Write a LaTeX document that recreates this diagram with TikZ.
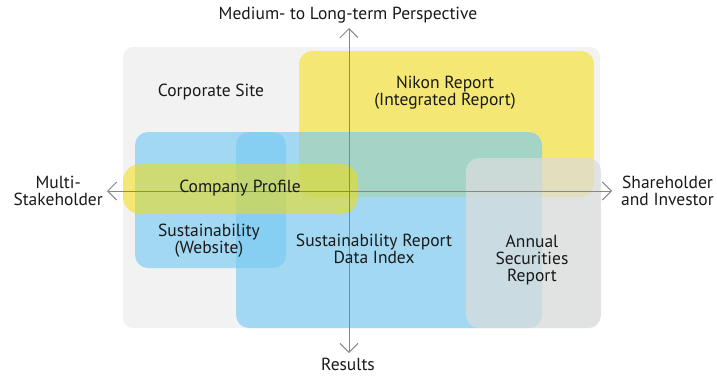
\documentclass[tikz,border=0pt]{standalone}
\usepackage{fontspec}
\setmainfont{PT Sans}
\usetikzlibrary{arrows.meta}
\definecolor{bggray}{RGB}{242,242,242}
\definecolor{yel}{RGB}{248,222,0}
\definecolor{blu}{RGB}{120,203,242}
\definecolor{gry}{RGB}{219,221,221}
\definecolor{axisgray}{RGB}{135,135,135}
\definecolor{txt}{RGB}{25,25,25}
\tikzset{
  region/.style={rectangle, draw=none, inner sep=0pt, outer sep=0pt},
  bgbox/.style={region, fill=bggray, rounded corners=10pt},
  yelbox/.style={region, fill=yel, fill opacity=0.52, rounded corners=13pt},
  blubox/.style={region, fill=blu, fill opacity=0.65, rounded corners=13pt},
  grybox/.style={region, fill=gry, fill opacity=0.72, rounded corners=13pt},
  lbl/.style={inner sep=0pt, align=center, text=txt, font=\fontsize{17.5}{17}\selectfont},
  axis/.style={draw=axisgray, line width=0.9pt, {Straight Barb[length=9pt,width=18pt,line width=0.9pt]}-{Straight Barb[length=9pt,width=18pt,line width=0.9pt]}}
}
\begin{document}
\begin{tikzpicture}[x=1pt,y=-1pt]
\useasboundingbox (0,0) rectangle (717,375);
% regions
\node[bgbox, minimum width=477pt, minimum height=281pt] (corp) at (361.5,187.5) {};
\node[yelbox, minimum width=295pt, minimum height=146pt] (nikon) at (446.5,124) {};
\node[blubox, minimum width=151pt, minimum height=136pt] (susweb) at (210.5,200) {};
\node[blubox, minimum width=306pt, minimum height=196pt] (susrep) at (389,230) {};
\node[yelbox, minimum width=235pt, minimum height=50pt, rounded corners=17pt] (profile) at (240.5,189) {};
\node[grybox, minimum width=135pt, minimum height=170pt] (annual) at (533.5,243) {};
% axes
\coordinate (L) at (107,191);
\coordinate (R) at (612,191);
\coordinate (T) at (349,28);
\coordinate (B) at (349,353);
\draw[axis] (L) -- (R);
\draw[axis] (B) -- (T);
% labels
\node[lbl] (tcorp) at (211,92) {Corporate Site};
\node[lbl] (tnikon) at (445,92.5) {Nikon Report\\(Integrated Report)};
\node[lbl] (tprof) at (240,188) {Company Profile};
\node[lbl] (tsusweb) at (209,240.5) {Sustainability\\(Website)};
\node[lbl] (tsusrep) at (374,248.5) {Sustainability Report\\Data Index};
\node[lbl] (tannual) at (532,260) {Annual\\Securities\\Report};
\node[lbl, anchor=east] (tmulti) at (103,191) {Multi-\\Stakeholder};
\node[lbl, anchor=west] (tshare) at (621,191) {Shareholder\\and Investor};
\node[lbl] (ttop) at (348,15) {Medium- to Long-term Perspective};
\node[lbl, anchor=base] (tbot) at (348,370) {Results};
\end{tikzpicture}
\end{document}
